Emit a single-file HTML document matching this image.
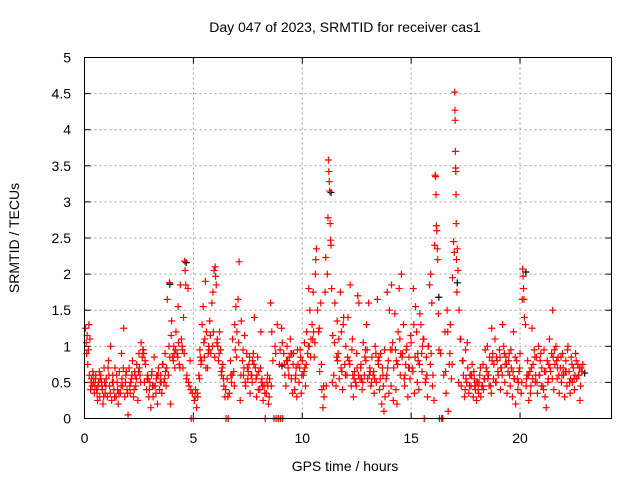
<!DOCTYPE html>
<html><head><meta charset="utf-8"><style>
body{margin:0;background:#fff}
svg{display:block;font-family:"Liberation Sans",sans-serif}
</style></head><body>
<svg id="chart" width="640" height="480" viewBox="0 0 640 480" xmlns="http://www.w3.org/2000/svg">
<rect width="640" height="480" fill="#fff"/>
<text x="345" y="32" font-size="14" text-anchor="middle">Day 047 of 2023, SRMTID for receiver cas1</text>
<text x="345" y="471" font-size="14" text-anchor="middle">GPS time / hours</text>
<text transform="translate(19,238) rotate(-90)" font-size="14" text-anchor="middle">SRMTID / TECUs</text>
<g id="grid"></g><g id="ticks"></g><g id="marks"></g>
<rect x="84.5" y="57.5" width="527" height="361" fill="none" stroke="#000" stroke-width="1"/>
</svg>
<script>
const xTicks=[0,5,10,15,20];
const yTicks=[0,0.5,1,1.5,2,2.5,3,3.5,4,4.5,5];
const yTickLabels=["0","0.5","1","1.5","2","2.5","3","3.5","4","4.5","5"];
const redTimes=[0.05,0.1,0.12,0.15,0.2,0.22,0.25,0.3,0.35,0.4,0.45,0.5,0.55,0.6,0.65,0.7,0.75,0.8,0.85,0.9,0.95,
1.0,1.05,1.1,1.15,1.2,1.25,1.3,1.35,1.4,1.45,1.5,1.55,1.6,1.65,1.7,1.75,1.8,1.85,1.9,1.95,
2.0,2.05,2.1,2.15,2.2,2.25,2.3,2.35,2.4,2.45,2.5,2.55,2.6,2.65,2.7,2.75,2.8,2.85,2.9,2.95,
3.0,3.05,3.1,3.15,3.2,3.25,3.3,3.35,3.4,3.45,3.5,3.55,3.6,3.65,3.7,3.75,3.8,3.85,3.9,3.95,
4.0,4.05,4.1,4.15,4.2,4.25,4.3,4.35,4.4,4.45,4.5,4.55,4.6,4.62,4.65,4.7,4.75,4.8,4.85,4.9,4.95,
5.0,5.05,5.1,5.15,5.2,5.25,5.3,5.35,5.4,5.45,5.5,5.55,5.6,5.65,5.7,5.75,5.8,5.85,5.9,5.95,
6.0,6.02,6.05,6.1,6.15,6.2,6.25,6.3,6.35,6.4,6.45,6.5,6.55,6.6,6.65,6.7,6.75,6.8,6.85,6.9,6.95,
7.0,7.05,7.1,7.15,7.2,7.25,7.3,7.35,7.4,7.45,7.5,7.55,7.6,7.65,7.7,7.75,7.8,7.85,7.9,7.95,
8.0,8.05,8.1,8.15,8.2,8.25,8.3,8.35,8.4,8.45,8.5,8.55,8.6,8.65,8.7,8.75,8.8,8.85,8.9,8.95,
9.0,9.05,9.1,9.15,9.2,9.25,9.3,9.35,9.4,9.45,9.5,9.55,9.6,9.65,9.7,9.75,9.8,9.85,9.9,9.95,
10.0,10.05,10.1,10.15,10.2,10.25,10.3,10.35,10.4,10.45,10.5,10.55,10.6,10.62,10.65,10.7,10.75,10.8,10.85,10.9,10.95,
11.0,11.05,11.08,11.1,11.15,11.18,11.2,11.22,11.24,11.26,11.28,11.3,11.32,11.35,11.4,11.45,11.5,11.55,11.6,11.65,11.7,11.75,11.8,11.85,11.9,11.95,
12.0,12.05,12.1,12.15,12.2,12.25,12.3,12.35,12.4,12.45,12.5,12.55,12.6,12.65,12.7,12.75,12.8,12.85,12.9,12.95,
13.0,13.05,13.1,13.15,13.2,13.25,13.3,13.35,13.4,13.45,13.5,13.55,13.6,13.65,13.7,13.75,13.8,13.85,13.9,13.95,
14.0,14.05,14.1,14.15,14.2,14.25,14.3,14.35,14.4,14.45,14.5,14.55,14.6,14.65,14.7,14.75,14.8,14.85,14.9,14.95,
15.0,15.05,15.1,15.15,15.2,15.25,15.3,15.35,15.4,15.45,15.5,15.55,15.6,15.65,15.7,15.75,15.8,15.85,15.9,15.95,
16.0,16.05,16.08,16.1,16.12,16.14,16.16,16.18,16.2,16.22,16.25,16.3,16.35,16.4,16.45,16.5,16.55,16.6,16.65,16.7,16.75,16.8,16.85,16.9,16.95,
16.98,17.0,17.01,17.02,17.03,17.04,17.05,17.06,17.07,17.08,17.1,17.12,17.15,17.2,17.25,17.3,17.35,17.4,17.45,17.5,17.55,17.6,17.65,17.7,17.75,17.8,17.85,17.9,17.95,
18.0,18.05,18.1,18.15,18.2,18.25,18.3,18.35,18.4,18.45,18.5,18.55,18.6,18.65,18.7,18.75,18.8,18.85,18.9,18.95,
19.0,19.05,19.1,19.15,19.2,19.25,19.3,19.35,19.4,19.45,19.5,19.55,19.6,19.65,19.7,19.75,19.8,19.85,19.9,19.95,
20.0,20.05,20.1,20.12,20.14,20.16,20.18,20.2,20.25,20.3,20.35,20.4,20.45,20.5,20.55,20.6,20.65,20.7,20.75,20.8,20.85,20.9,20.95,
21.0,21.05,21.1,21.15,21.2,21.25,21.3,21.35,21.4,21.45,21.5,21.55,21.6,21.65,21.7,21.75,21.8,21.85,21.9,21.95,
22.0,22.05,22.1,22.15,22.2,22.25,22.3,22.35,22.4,22.45,22.5,22.55,22.6,22.65,22.7,22.75,22.8,22.85];
const redValues=[1.25,0.9,1.15,0.75,1.3,0.6,1.1,0.5,0.45,0.6,0.35,0.55,0.4,0.25,0.5,0.3,0.6,0.45,0.2,0.7,0.35,
0.55,0.3,0.8,0.45,1.0,0.25,0.6,0.4,0.7,0.3,0.5,0.2,0.65,0.35,0.9,0.45,1.25,0.3,0.6,0.4,
0.05,0.7,0.35,0.55,0.8,0.3,0.65,0.45,0.75,0.25,0.9,0.6,1.05,0.85,0.95,0.5,0.75,0.4,0.6,0.3,
0.5,0.15,0.65,0.3,0.85,0.45,0.55,0.2,0.7,0.4,0.6,0.35,0.75,0.5,0.9,0.45,1.65,0.6,1.88,0.2,
1.35,0.85,1.0,0.7,1.2,0.9,1.55,0.75,1.85,1.1,0.95,1.4,2.18,2.05,1.85,0.6,1.8,0.45,0.8,0,0.35,
0,0.25,0.4,0.15,0.3,0.6,0.95,0.75,1.3,1.55,0.85,1.9,1.2,0.7,1.0,1.35,0.9,1.6,1.75,2.05,
2.1,1.97,1.85,1.1,0.8,1.2,0.95,0.6,0.75,0.45,0.3,0,0.55,0,0.35,0.8,0.5,1.1,0.65,1.3,1.55,
1.2,1.65,2.17,0.25,1.35,0.8,0.6,1.15,0.45,0.9,0.55,0.75,0.35,0.6,0.5,0.9,1.4,0.7,0.3,0.85,
0.65,0.4,1.2,0.55,0.25,0.45,0,0.35,0.6,0.2,0.55,1.6,1.2,0.8,0,1.0,0,1.3,0,0.75,
0,1.25,0,0.9,0.6,0.45,1.0,0.7,0.85,1.1,0.55,0.35,0.9,0.4,0.6,0.3,0.75,0.5,0.95,0.35,
0.8,0.6,1.05,0.45,1.2,0.9,1.8,1.5,1.1,1.3,1.75,0.85,2.0,2.2,2.35,1.5,1.2,0.65,1.6,0.4,0.15,
0.3,1.75,2.23,0.45,2.0,2.78,3.58,3.42,3.28,3.15,2.7,2.47,2.4,1.8,1.15,0.6,1.6,0.45,1.35,0.9,0.55,1.75,1.2,0.4,1.4,0.75,
1.0,0.6,1.4,0.8,1.85,0.45,1.1,0.3,0.65,0.5,0.9,1.7,1.6,0.55,0.75,0.4,1.05,0.6,0.95,1.3,
0.55,1.6,0.7,0.45,0.85,0.6,0.35,1.0,0.5,1.65,0.75,0.4,0.9,0.2,0.6,0.1,0.3,0.55,1.75,0.8,
1.5,0.95,1.85,1.05,0.7,1.45,0.4,0.2,1.2,1.8,0.6,2.0,0.9,1.3,0.45,0.75,1.0,0.3,0.85,0.55,
1.05,0.7,1.8,0.35,1.55,1.2,0.9,0.4,1.45,1.3,0.65,1.1,0,0.5,0.85,0.3,1.0,1.85,2.0,1.6,
0.6,0.25,2.4,3.37,3.35,3.1,2.67,2.6,2.35,2.2,1.45,0,0.9,0,0,0.6,1.2,0.35,1.5,0.1,0.75,1.3,0.55,1.95,2.45,
2.3,4.52,4.27,4.13,3.7,3.47,3.42,3.1,2.7,2.2,1.75,2.35,2.05,1.5,1.1,0.45,0.8,0.6,0.3,0.95,0.5,0.7,0.35,0.6,0.45,0.75,0.3,0.55,0.4,
0.25,0.5,0.35,0.6,0.3,0.45,0.75,0.55,0.95,0.7,1.0,0.6,0.85,0.45,1.25,0.9,0.75,1.1,0.5,0.8,
0.6,0.95,0.4,0.7,1.3,1.0,0.5,0.85,0.35,0.65,0.9,0.45,0.7,0.3,1.2,0.55,0.2,0.8,0.4,0.65,
0.9,0.35,1.65,2.07,1.97,1.8,1.65,1.4,1.3,0.55,0.8,0.25,0.65,0.45,1.25,0.75,0.95,0.5,0.85,0.35,1.0,0.6,0.9,
0.7,0.45,0.95,0.3,0.15,0.8,0.55,1.1,0.65,0.9,1.5,0.4,0.75,1.0,0.55,0.85,0.35,0.7,0.5,0.9,
0.6,0.3,0.8,0.45,1.0,0.65,0.35,0.85,0.5,0.7,0.4,0.9,0.55,0.75,0.6,0.25,0.7,0.65];
const fillTimes=[0.32,0.42,0.52,0.62,0.72,0.82,0.92,1.12,1.32,1.52,1.72,1.92,2.12,2.32,2.52,2.72,2.92,3.12,3.32,3.52,3.72,3.92,4.12,4.32,4.52,5.32,5.52,5.72,5.92,6.12,6.32,6.72,6.92,7.32,7.52,7.72,7.92,8.12,8.42,9.32,9.52,9.72,9.92,10.12,10.32,10.52,11.62,11.82,12.32,12.52,12.72,12.92,13.12,13.32,13.52,13.72,13.92,14.12,14.32,14.52,14.72,14.92,15.12,15.32,15.52,15.72,15.92,17.52,17.72,17.92,18.12,18.32,18.52,18.72,18.92,19.12,19.32,19.52,19.72,19.92,20.32,20.52,20.72,20.92,21.12,21.32,21.52,21.72,21.92,22.12,22.32,22.52,22.72];
const fillValues=[0.55,0.5,0.6,0.45,0.55,0.4,0.5,0.6,0.5,0.4,0.55,0.65,0.5,0.6,0.7,0.9,0.55,0.45,0.6,0.5,0.65,0.85,0.9,1.05,0.7,0.85,1.1,0.95,1.2,1.0,0.7,0.6,0.95,0.7,0.65,0.8,0.6,0.5,0.45,0.8,0.9,0.7,0.85,0.7,1.0,1.2,0.8,0.65,0.6,0.7,0.55,0.8,0.65,0.55,0.85,0.45,0.7,0.95,0.8,0.9,0.6,0.7,1.3,0.8,1.0,0.6,0.9,0.55,0.6,0.45,0.5,0.4,0.55,0.8,0.85,0.7,0.75,0.6,0.55,0.5,0.6,0.7,0.6,0.8,0.65,0.75,0.85,0.7,0.6,0.65,0.55,0.6,0.7];
const extraTimes=[0.08,0.18,0.28,0.38,0.48,0.58,0.68,0.78,0.88,0.98,1.08,1.18,1.28,1.38,1.48,1.58,1.68,1.78,1.88,1.98,2.08,2.18,2.28,2.38,2.48,2.58,2.68,2.78,2.88,2.98,3.08,3.18,3.28,3.38,3.48,3.58,3.68,3.78,3.88,3.98,4.08,4.18,4.28,4.38,4.48,4.58,4.68,4.78,4.88,5.08,5.18,5.28,5.38,5.48,5.58,5.68,5.78,5.88,5.98,6.08,6.18,6.28,6.38,6.48,6.58,6.78,6.88,6.98,7.08,7.18,7.28,7.38,7.48,7.58,7.68,7.78,7.88,7.98,8.08,8.18,8.28,8.38,8.48,8.58,8.78,8.98,9.08,9.18,9.28,9.38,9.48,9.58,9.68,9.78,9.88,9.98,10.08,10.18,10.28,10.38,10.48,10.58,10.78,10.88,10.98,11.38,11.48,11.58,11.68,11.78,11.88,11.98,12.08,12.18,12.28,12.38,12.48,12.58,12.68,12.78,12.88,12.98,13.08,13.18,13.28,13.38,13.48,13.58,13.68,13.78,13.88,13.98,14.08,14.18,14.28,14.38,14.48,14.58,14.68,14.78,14.88,14.98,15.08,15.18,15.28,15.38,15.48,15.58,15.68,15.78,15.88,15.98,16.28,16.58,16.68,16.78,16.88,17.18,17.28,17.38,17.48,17.58,17.68,17.78,17.88,17.98,18.08,18.18,18.28,18.38,18.48,18.58,18.68,18.78,18.88,18.98,19.08,19.18,19.28,19.38,19.48,19.58,19.68,19.78,19.88,19.98,20.08,20.28,20.38,20.48,20.58,20.68,20.78,20.88,20.98,21.08,21.18,21.28,21.38,21.48,21.58,21.68,21.78,21.88,21.98,22.08,22.18,22.28,22.38,22.48,22.58,22.68,22.78,22.88];
const extraValues=[1.05,0.95,0.4,0.65,0.45,0.35,0.65,0.5,0.3,0.45,0.7,0.35,0.5,0.3,0.6,0.35,0.45,0.7,0.5,0.35,0.45,0.6,0.4,0.55,0.65,0.5,0.95,0.8,0.55,0.4,0.6,0.45,0.35,0.6,0.5,0.75,0.55,0.7,1.0,1.15,0.8,0.95,0.85,0.7,1.0,0.9,0.55,0.5,0.4,0.3,0.35,0.55,0.8,1.05,0.7,0.9,1.15,1.0,0.85,1.05,0.9,0.65,0.55,0.4,0.3,0.6,0.45,0.85,1.05,0.6,0.95,0.5,0.7,0.85,0.6,0.75,0.55,0.4,0.7,0.45,0.35,0.5,0.3,0.45,0.9,0.95,1.05,0.75,0.8,0.6,0.9,0.75,0.55,0.95,0.7,0.6,0.65,0.75,1.0,0.85,1.1,1.05,1.25,0.75,0.45,0.5,1.05,0.85,1.1,0.7,1.3,0.6,0.85,0.75,0.95,0.55,0.45,0.6,0.7,0.5,0.85,0.95,0.6,0.5,0.65,0.9,0.8,0.55,0.7,0.95,0.6,0.35,0.45,0.25,0.95,0.75,1.1,0.85,0.55,0.95,0.7,1.15,0.65,0.85,0.5,0.75,0.9,1.1,0.55,1.0,0.75,0.45,0.95,0.65,1.2,0.9,0.75,0.5,1.1,0.8,0.4,1.05,0.45,0.6,0.65,0.5,0.4,0.7,0.45,0.55,0.65,0.45,0.35,0.55,0.5,0.65,0.85,0.6,0.9,0.75,0.8,0.95,0.65,0.85,0.55,0.7,0.5,0.45,0.6,0.35,0.55,0.85,0.5,0.6,0.45,0.4,0.65,0.5,0.7,0.55,0.95,0.8,0.6,0.85,0.7,0.65,0.95,0.5,0.75,0.55,0.8,0.6,0.45,0.75,0.5,0.6,0.45,0.8,0.55,0.7];
const blackTimes=[3.85,4.6,9.0,11.25,16.2,17.05,20.2,22.9];
const blackValues=[1.88,2.18,0.75,3.15,1.7,1.9,2.05,0.65];

const L=84.5,R=611.5,T=57.5,B=418.5,XMAX=24.2,YMAX=5;
const sx=v=>L+v/XMAX*(R-L), sy=v=>B-v/YMAX*(B-T);
const NS="http://www.w3.org/2000/svg";
const mk=(t,a,p)=>{const e=document.createElementNS(NS,t);for(const k in a)e.setAttribute(k,a[k]);p.appendChild(e);return e;};
const grid=document.getElementById('grid'),ticks=document.getElementById('ticks'),marks=document.getElementById('marks');
yTicks.forEach((v,i)=>{const y=sy(v);
 if(v>0&&v<YMAX){const g=mk('line',{x1:L,x2:R,y1:y,y2:y,stroke:'#a0a0a0','stroke-dasharray':'2,3'},grid);
 
 }
 mk('line',{x1:L,x2:L+6,y1:y,y2:y,stroke:'#000'},ticks);mk('line',{x1:R-6,x2:R,y1:y,y2:y,stroke:'#000'},ticks);
 const t=mk('text',{x:71,y:y+5,'font-size':14,'text-anchor':'end'},ticks);t.textContent=yTickLabels[i];
 
 });
xTicks.forEach(v=>{const x=sx(v);
 if(v>0){const g=mk('line',{x1:x,x2:x,y1:T,y2:B,stroke:'#a0a0a0','stroke-dasharray':'2,3'},grid);
 
 }
 mk('line',{x1:x,x2:x,y1:B,y2:B-6,stroke:'#000'},ticks);mk('line',{x1:x,x2:x,y1:T,y2:T+6,stroke:'#000'},ticks);
 const t=mk('text',{x:x,y:443,'font-size':14,'text-anchor':'middle'},ticks);t.textContent=String(v);
 
 });
function plus(x,y,c,name){const p=mk('path',{d:`M${x-3.5} ${y}h7M${x} ${y-3.5}v7`,stroke:c,'stroke-width':1.2,fill:'none'},marks);
 
 }
blackTimes.forEach((t,i)=>plus(sx(t)+1.5,sy(blackValues[i])+1.5,'#000','black-point'));
fillTimes.forEach((t,i)=>plus(sx(t),sy(fillValues[i]),'#ff0000','red-point'));
extraTimes.forEach((t,i)=>plus(sx(t),sy(extraValues[i]),'#ff0000','red-point'));
redTimes.forEach((t,i)=>plus(sx(t),sy(redValues[i]),'#ff0000','red-point'));
</script>
</body></html>
